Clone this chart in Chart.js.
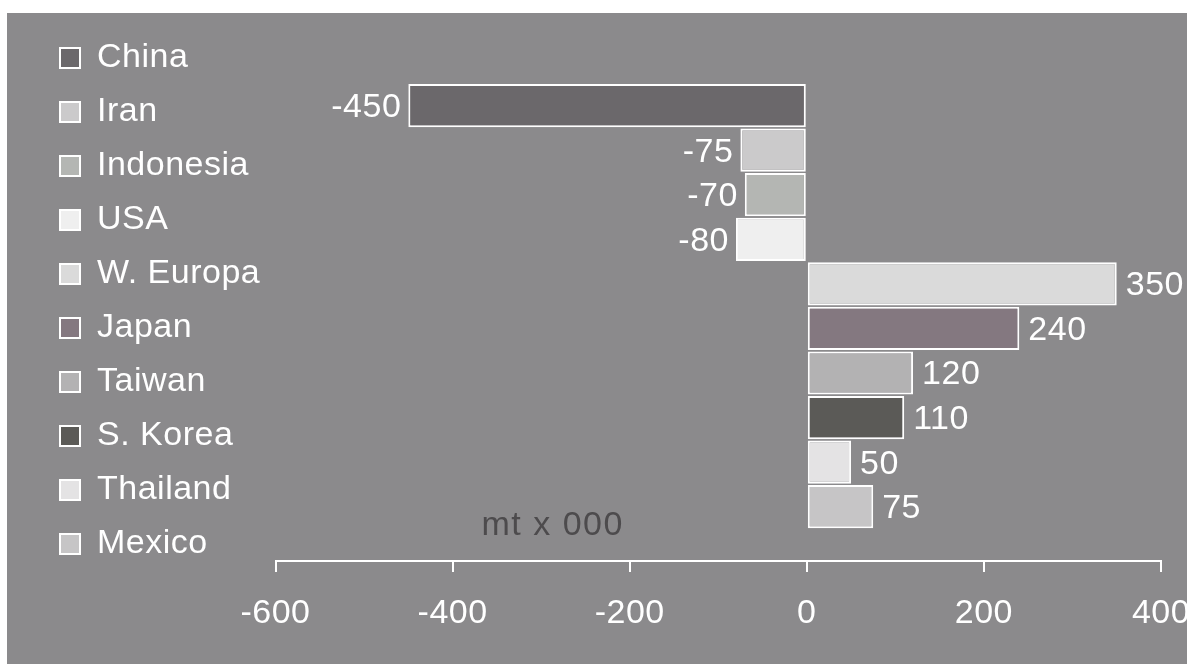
<!DOCTYPE html>
<html>
<head>
<meta charset="utf-8">
<script src="https://cdn.jsdelivr.net/npm/chart.js@4.4.1/dist/chart.umd.min.js"></script>
<style>
  html, body { margin: 0; padding: 0; background: #ffffff; width: 1187px; height: 664px; overflow: hidden; }
  #panel { position: absolute; left: 7px; top: 13px; right: 0; bottom: 0; background: rgb(139,138,140); }
  #wrap { position: absolute; left: 0; top: 0; width: 1187px; height: 664px; }
</style>
</head>
<body>
<div id="panel"></div>
<div id="wrap"><canvas id="c" width="1187" height="664"></canvas></div>
<script>
// Net trade balance by country, thousand tonnes
const countries = ['China', 'Iran', 'Indonesia', 'USA', 'W. Europa', 'Japan', 'Taiwan', 'S. Korea', 'Thailand', 'Mexico'];
const balance   = [-450, -75, -70, -80, 350, 240, 120, 110, 50, 75];
const barColors = ['#6b686b', '#cbcacb', '#b4b6b3', '#efefef', '#dadada', '#847880', '#b3b2b3', '#5b5a57', '#e4e3e4', '#c6c5c6'];
const xTicks    = [-600, -400, -200, 0, 200, 400];
const unitLabel = 'mt x 000';

const FONT = '"Liberation Sans", Arial, Helvetica, sans-serif';
const PAD_LEFT = 40;
const AXIS_LEFT = 275.5;

// light tracking on all lettering
const tracking = {
  id: 'tracking',
  beforeLayout(chart) { chart.ctx.letterSpacing = '0.5px'; },
  beforeDraw(chart) { chart.ctx.letterSpacing = '0.5px'; }
};

// value written at the end of each bar, plus the unit caption above the axis
const barValues = {
  id: 'barValues',
  afterDatasetsDraw(chart) {
    const ctx = chart.ctx;
    const meta = chart.getDatasetMeta(0);
    ctx.save();
    ctx.font = '34px ' + FONT;
    ctx.fillStyle = '#ffffff';
    ctx.textBaseline = 'middle';
    meta.data.forEach((bar, i) => {
      const v = balance[i];
      if (v < 0) {
        ctx.textAlign = 'right';
        ctx.fillText(String(v), bar.x - 7, bar.y + 2);
      } else {
        ctx.textAlign = 'left';
        ctx.fillText(String(v), bar.x + 9, bar.y + 2);
      }
    });
    const xs = chart.scales.x;
    ctx.font = '34px ' + FONT;
    ctx.letterSpacing = '1.5px';
    ctx.fillStyle = '#4d4b4d';
    ctx.textAlign = 'center';
    ctx.fillText(unitLabel, xs.getPixelForValue(-287), chart.chartArea.bottom - 35);
    ctx.restore();
  }
};

new Chart(document.getElementById('c'), {
  type: 'bar',
  data: {
    datasets: [{
      data: balance.map((v, i) => ({ x: v, y: i })),
      backgroundColor: barColors,
      borderColor: '#ffffff',
      borderWidth: 2,
      borderSkipped: false,
      inflateAmount: 0,
      barPercentage: 0.97,
      categoryPercentage: 1
    }]
  },
  options: {
    indexAxis: 'y',
    responsive: false,
    animation: false,
    events: [],
    layout: { autoPadding: false, padding: { top: 21, left: PAD_LEFT, right: 26, bottom: 0 } },
    plugins: {
      tooltip: { enabled: false },
      legend: {
        position: 'left',
        align: 'start',
        labels: {
          color: '#ffffff',
          font: { family: FONT, size: 34 },
          boxWidth: 20,
          boxHeight: 20,
          padding: 20,
          generateLabels: () => countries.map((name, i) => ({
            text: name,
            fillStyle: barColors[i],
            strokeStyle: '#ffffff',
            lineWidth: 2,
            fontColor: '#ffffff',
            hidden: false,
            index: i,
            datasetIndex: 0
          }))
        }
      }
    },
    scales: {
      x: {
        type: 'linear',
        offset: false,
        min: -600,
        max: 400,
        afterBuildTicks: (scale) => { scale.ticks = xTicks.map(v => ({ value: v })); },
        afterFit: (scale) => {
          scale.height = 103;
          scale.paddingLeft = 0;
          scale.paddingRight = 0;
        },
        border: { display: true, color: '#ffffff', width: 2 },
        grid: { drawOnChartArea: false, drawTicks: true, tickLength: 11, color: '#ffffff', lineWidth: 2 },
        ticks: {
          color: '#ffffff',
          font: { family: FONT, size: 34 },
          padding: 21,
          maxRotation: 0,
          autoSkip: false
        }
      },
      y: {
        type: 'linear',
        offset: false,
        reverse: true,
        min: -1.898,
        max: 10.218,
        afterFit: (scale) => {
          const lg = scale.chart.legend;
          scale.width = Math.max(0, AXIS_LEFT - PAD_LEFT - (lg ? lg.width : 0));
          scale.paddingTop = 0;
          scale.paddingBottom = 0;
        },
        border: { display: false },
        grid: { display: false },
        ticks: { display: false }
      }
    }
  },
  plugins: [tracking, barValues]
});
</script>
</body>
</html>
